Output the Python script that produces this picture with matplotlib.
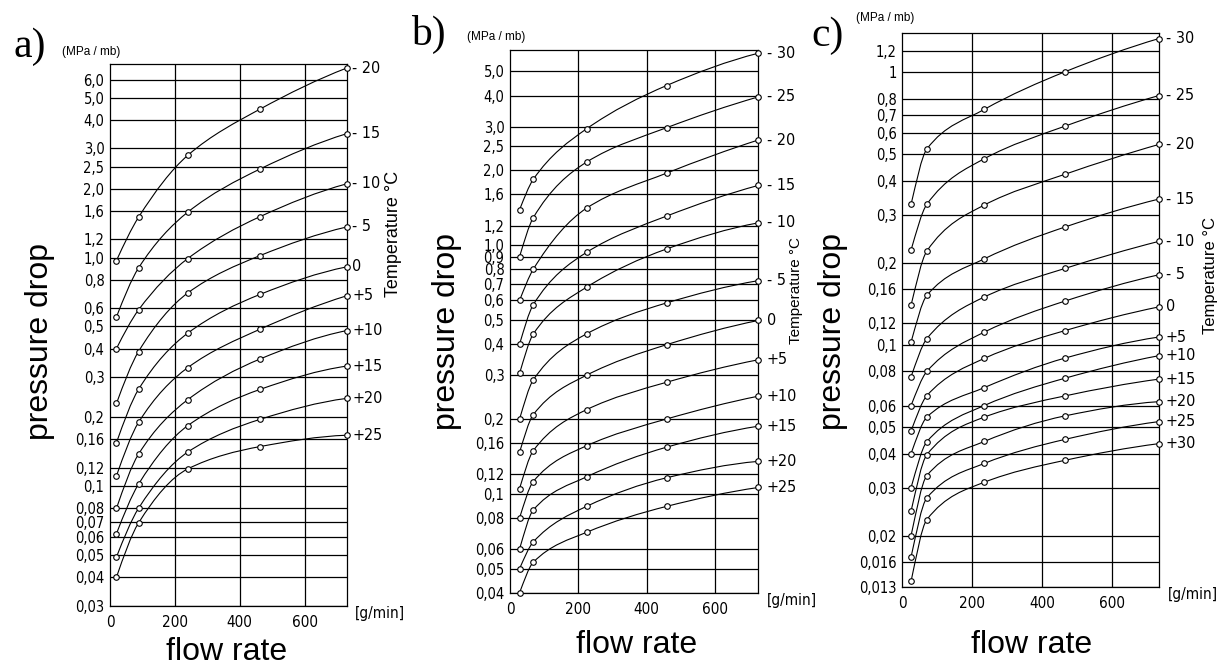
#!/usr/bin/env python3
"""Pressure drop vs flow rate at several temperatures, three panels a) b) c)."""

import matplotlib
matplotlib.use("Agg")
import matplotlib.pyplot as plt
import numpy as np
from matplotlib.path import Path
from matplotlib.patches import PathPatch

# --- panel a ---
a_flow = [20, 88, 240, 463, 730]
a_temps = ["-20", "-15", "-10", "-5", "0", "+5", "+10", "+15", "+20", "+25"]
a_dp = [
    [0.97, 1.5, 2.8, 4.46, 6.74],
    [0.55, 0.90, 1.58, 2.44, 3.48],
    [0.40, 0.59, 0.99, 1.51, 2.10],
    [0.23, 0.388, 0.70, 1.02, 1.36],
    [0.155, 0.265, 0.467, 0.69, 0.91],
    [0.111, 0.19, 0.33, 0.486, 0.68],
    [0.08, 0.138, 0.239, 0.36, 0.479],
    [0.062, 0.102, 0.184, 0.265, 0.335],
    [0.049, 0.080, 0.141, 0.196, 0.242],
    [0.04, 0.069, 0.119, 0.149, 0.167],
]
a_ticks = [6.0, 5.0, 4.0, 3.0, 2.5, 2.0, 1.6, 1.2, 1.0, 0.8, 0.6, 0.5, 0.4, 0.3,
           0.2, 0.16, 0.12, 0.1, 0.08, 0.07, 0.06, 0.05, 0.04, 0.03]
a_ticklabels = ["6,0", "5,0", "4,0", "3,0", "2,5", "2,0", "1,6", "1,2", "1,0", "0,8",
                "0,6", "0,5", "0,4", "0,3", "0,2", "0,16", "0,12", "0,1", "0,08",
                "0,07", "0,06", "0,05", "0,04", "0,03"]

# --- panel b ---
b_flow = [28, 68, 224, 458, 726]
b_temps = ["-30", "-25", "-20", "-15", "-10", "-5", "0", "+5", "+10", "+15", "+20", "+25"]
b_dp = [
    [1.39, 1.84, 2.94, 4.39, 5.92],
    [0.9, 1.29, 2.16, 2.97, 3.95],
    [0.6, 0.80, 1.41, 1.95, 2.65],
    [0.4, 0.576, 0.936, 1.31, 1.74],
    [0.305, 0.439, 0.678, 0.966, 1.23],
    [0.2, 0.287, 0.44, 0.586, 0.72],
    [0.147, 0.208, 0.3, 0.398, 0.498],
    [0.105, 0.149, 0.218, 0.281, 0.346],
    [0.08, 0.112, 0.156, 0.2, 0.247],
    [0.06, 0.086, 0.117, 0.154, 0.187],
    [0.05, 0.064, 0.089, 0.116, 0.135],
    [0.04, 0.053, 0.070, 0.089, 0.106],
]
b_ticks = [5.0, 4.0, 3.0, 2.5, 2.0, 1.6, 1.2, 1.0, 0.9, 0.8, 0.7, 0.6, 0.5, 0.4,
           0.3, 0.2, 0.16, 0.12, 0.1, 0.08, 0.06, 0.05, 0.04]
b_ticklabels = ["5,0", "4,0", "3,0", "2,5", "2,0", "1,6", "1,2", "1,0", "0,9", "0,8",
                "0,7", "0,6", "0,5", "0,4", "0,3", "0,2", "0,16", "0,12", "0,1",
                "0,08", "0,06", "0,05", "0,04"]

# --- panel c ---
c_flow = [25, 70, 234, 465, 733]
c_temps = ["-30", "-25", "-20", "-15", "-10", "-5", "0", "+5", "+10", "+15", "+20",
           "+25", "+30"]
c_dp = [
    [0.328, 0.523, 0.731, 1.005, 1.33],
    [0.223, 0.328, 0.482, 0.635, 0.822],
    [0.14, 0.221, 0.326, 0.423, 0.544],
    [0.1025, 0.152, 0.207, 0.271, 0.343],
    [0.0765, 0.1055, 0.150, 0.191, 0.24],
    [0.06, 0.08, 0.1115, 0.145, 0.181],
    [0.0484, 0.0652, 0.0893, 0.113, 0.138],
    [0.04, 0.0544, 0.0698, 0.0896, 0.107],
    [0.03, 0.0442, 0.06, 0.0756, 0.0914],
    [0.0246, 0.0396, 0.0544, 0.0651, 0.075],
    [0.02, 0.0332, 0.0443, 0.055, 0.062],
    [0.0167, 0.0275, 0.0368, 0.0451, 0.0524],
    [0.0136, 0.0229, 0.0314, 0.0378, 0.0435],
]
c_ticks = [1.2, 1.0, 0.8, 0.7, 0.6, 0.5, 0.4, 0.3, 0.2, 0.16, 0.12, 0.1, 0.08, 0.06,
           0.05, 0.04, 0.03, 0.02, 0.016, 0.013]
c_ticklabels = ["1,2", "1", "0,8", "0,7", "0,6", "0,5", "0,4", "0,3", "0,2", "0,16",
                "0,12", "0,1", "0,08", "0,06", "0,05", "0,04", "0,03", "0,02",
                "0,016", "0,013"]

x_ticks = [0, 200, 400, 600]

TECH = dict(family="DejaVu Sans", stretch="condensed")


def smooth_curve(x, y):
    """Monotone cubic Bezier through the points, built in (x, log y) space."""
    lx = np.asarray(x, float)
    ly = np.log10(np.asarray(y, float))
    h = np.diff(lx)
    d = np.diff(ly) / h
    n = len(lx)
    m = np.zeros(n)
    for i in range(1, n - 1):
        if d[i - 1] * d[i] <= 0:
            m[i] = 0.0
        else:
            w1 = 2 * h[i] + h[i - 1]
            w2 = h[i] + 2 * h[i - 1]
            m[i] = (w1 + w2) / (w1 / d[i - 1] + w2 / d[i])
    m[0] = ((2 * h[0] + h[1]) * d[0] - h[0] * d[1]) / (h[0] + h[1])
    if m[0] * d[0] <= 0:
        m[0] = 0.0
    elif abs(m[0]) > 3 * abs(d[0]):
        m[0] = 3 * d[0]
    m[-1] = ((2 * h[-1] + h[-2]) * d[-1] - h[-1] * d[-2]) / (h[-1] + h[-2])
    if m[-1] * d[-1] <= 0:
        m[-1] = 0.0
    verts = [(lx[0], 10 ** ly[0])]
    codes = [Path.MOVETO]
    for i in range(n - 1):
        verts.append((lx[i] + h[i] / 3, 10 ** (ly[i] + m[i] * h[i] / 3)))
        verts.append((lx[i + 1] - h[i] / 3, 10 ** (ly[i + 1] - m[i + 1] * h[i] / 3)))
        verts.append((lx[i + 1], 10 ** ly[i + 1]))
        codes += [Path.CURVE4] * 3
    return Path(verts, codes)


def draw_panel(ax, flow, temps, dp, ticks, ticklabels, ylim, label_dx):
    ax.set_yscale("log")
    ax.set_xlim(0, flow[-1])
    ax.set_ylim(*ylim)
    ax.minorticks_off()
    ax.set_yticks(ticks)
    ax.set_yticklabels(ticklabels, fontsize=10.5, **TECH)
    ax.set_xticks(x_ticks)
    ax.set_xticklabels([str(t) for t in x_ticks], fontsize=11, **TECH)
    ax.tick_params(length=0, pad=4)
    ax.tick_params(axis="x", pad=7)
    for t in ticks:
        ax.axhline(t, color="black", lw=0.9, zorder=1)
    for t in x_ticks[1:]:
        ax.axvline(t, color="black", lw=0.9, zorder=1)
    for sp in ax.spines.values():
        sp.set_linewidth(0.9)
    for lab, vals in zip(temps, dp):
        ax.add_patch(PathPatch(smooth_curve(flow, vals), facecolor="none",
                               edgecolor="black", lw=0.8, zorder=3, clip_on=False))
        ax.plot(flow, vals, "o", ms=4, mfc="white", mec="black", mew=0.8,
                zorder=4, clip_on=False)
        ax.annotate(lab.replace("-", "- "), xy=(flow[-1], vals[-1]),
                    xytext=(label_dx, 0), textcoords="offset points",
                    ha="left", va="center", fontsize=11.5, zorder=5, **TECH)
    ax.text(1.035, 0.0, "[g/min]", transform=ax.transAxes, ha="left", va="top",
            fontsize=11, **TECH)


fig = plt.figure(figsize=(12.17, 6.66), dpi=100)
W, H = 1217, 666


def add_box(l, r, t, b):
    return fig.add_axes([l / W, 1 - b / H, (r - l) / W, (b - t) / H])


ax_a = add_box(110, 346.7, 64.3, 605.7)
ax_b = add_box(510, 758.3, 50, 592.7)
ax_c = add_box(902.3, 1159, 33.3, 586.7)

draw_panel(ax_a, a_flow, a_temps, a_dp, a_ticks, a_ticklabels, (0.03, 7.0), 4)
draw_panel(ax_b, b_flow, b_temps, b_dp, b_ticks, b_ticklabels, (0.04, 6.1), 6)
draw_panel(ax_c, c_flow, c_temps, c_dp, c_ticks, c_ticklabels, (0.013, 1.39), 5)

# figure-level texts (pixel positions from the top-left corner)
def ftext(x, y, s, **kw):
    fig.text(x / W, 1 - y / H, s, **kw)


SANS = dict(family="Liberation Sans")
SERIF = dict(family="Liberation Serif")
for x, y, s in [(30, 47, "a)"), (428, 34, "b)"), (828, 36, "c)")]:
    ftext(x, y, s, ha="center", va="center", fontsize=30, **SERIF)
for x, y in [(91, 52), (496, 37), (885, 18)]:
    ftext(x, y, "(MPa / mb)", ha="center", va="center", fontsize=8.5, **SANS)
for x, y in [(40, 342), (447, 332), (833, 332)]:
    ftext(x, y, "pressure drop", ha="center", va="center", rotation=90,
          fontsize=23, **SANS)
for x, y in [(227, 652), (637, 645), (1032, 645)]:
    ftext(x, y, "flow rate", ha="center", va="center", fontsize=23, **SANS)
for x, y, fs in [(393, 234, 13), (796, 290, 11), (1210, 276, 12)]:
    ftext(x, y, "Temperature °C", ha="center", va="center", rotation=90,
          fontsize=fs, **SANS)

fig.savefig("out.png", dpi=100)
